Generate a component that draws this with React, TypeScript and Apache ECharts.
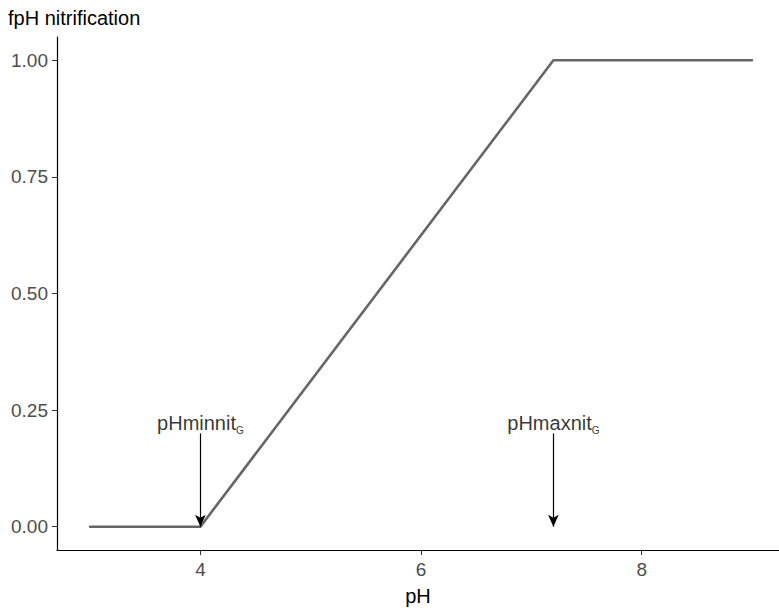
import React, { useEffect, useRef } from "react";
import * as echarts from "echarts";

const phValues = [3, 4, 7.2, 9];
const fphValues = [0, 0, 1, 1];
const yTicks = [0, 0.25, 0.5, 0.75, 1];
const xTicks = [4, 6, 8];
const arrowX = [4, 7.2];
const arrowTop = 0.2;
const labelY = 0.223;
const labelNames = ["pHminnit", "pHmaxnit"];

const FONT = "'Liberation Sans', Arial, Helvetica, sans-serif";

export default function App() {
  const ref = useRef<HTMLDivElement>(null);
  useEffect(() => {
    const chart = echarts.init(ref.current!, null, { renderer: "svg" });
    chart.setOption({
      animation: false,
      backgroundColor: "#fff",
      textStyle: { fontFamily: FONT },
      grid: { left: 57, top: 37, bottom: 58, right: 0, containLabel: false, outerBoundsMode: "none" },
      title: {
        text: "fpH nitrification",
        left: 3,
        top: 3,
        textStyle: { fontFamily: FONT, fontSize: 20, fontWeight: "normal", color: "#000" },
      },
      xAxis: {
        type: "value",
        min: 2.7,
        max: 9.245,
        name: "pH",
        nameLocation: "middle",
        nameGap: 36,
        nameTextStyle: { fontFamily: FONT, fontSize: 20, color: "#000" },
        splitLine: { show: false },
        axisLine: { onZero: false, lineStyle: { color: "#000", width: 1.2 } },
        axisTick: { customValues: xTicks, length: 5, lineStyle: { color: "#333" } },
        axisLabel: {
          customValues: xTicks,
          fontSize: 19,
          color: "#4d4d4d",
          margin: 10,
          formatter: (v: number) => String(v),
        },
      },
      yAxis: {
        type: "value",
        min: -0.05,
        max: 1.05,
        splitLine: { show: false },
        axisLine: { show: true, onZero: false, lineStyle: { color: "#000", width: 1.2 } },
        axisTick: { show: true, customValues: yTicks, length: 5, lineStyle: { color: "#333" } },
        axisLabel: {
          customValues: yTicks,
          fontSize: 19,
          color: "#4d4d4d",
          margin: 9,
          formatter: (v: number) => v.toFixed(2),
        },
      },
      series: [
        {
          type: "line",
          data: phValues.map((p, i) => [p, fphValues[i]]),
          showSymbol: false,
          lineStyle: { color: "#666666", width: 2.6, cap: "round", join: "round" },
          z: 2,
          markLine: {
            silent: true,
            symbol: ["none", "arrow"],
            symbolSize: [8, 12],
            lineStyle: { color: "#000", width: 1.2, type: "solid" },
            label: { show: false },
            data: arrowX.map((x) => [
              { coord: [x, arrowTop] },
              { coord: [x, 0] },
            ]),
          },
        },
        {
          type: "scatter",
          data: arrowX.map((x) => [x, labelY]),
          symbolSize: 1,
          itemStyle: { color: "transparent" },
          silent: true,
          label: {
            show: true,
            position: "inside",
            formatter: (p: any) => `{a|${labelNames[p.dataIndex]}}{b|G}`,
            rich: {
              a: { fontFamily: FONT, fontSize: 20, color: "#000", lineHeight: 22 },
              b: { fontFamily: FONT, fontSize: 10, color: "#000", lineHeight: 22, padding: [16, 0, 0, 0] },
            },
          },
        },
      ],
    });
    return () => chart.dispose();
  }, []);
  return (
    <div
      ref={ref}
      style={{ position: "fixed", left: 0, top: 0, width: 779, height: 608, background: "#fff" }}
    />
  );
}
